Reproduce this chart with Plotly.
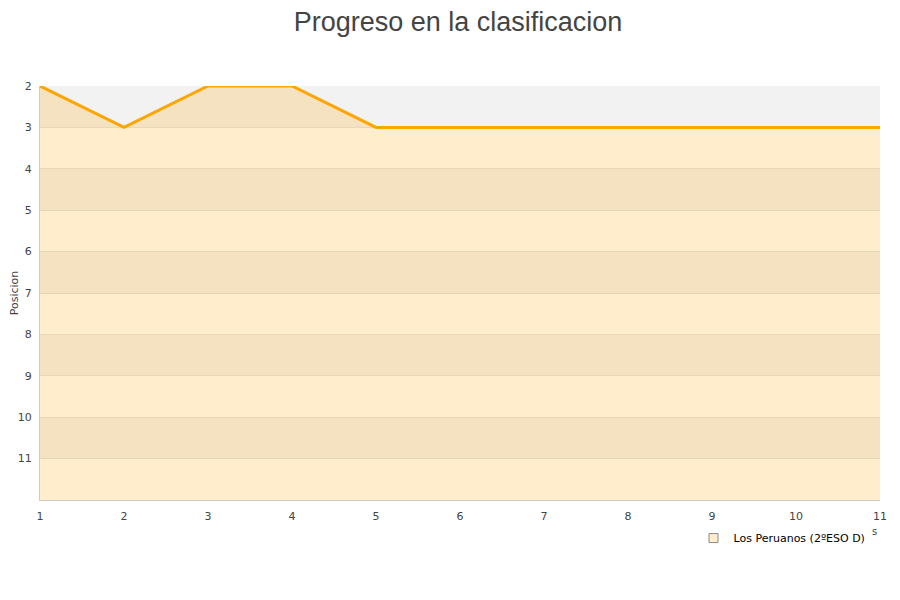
import plotly.graph_objects as go

jornadas = [1, 2, 3, 4, 5, 6, 7, 8, 9, 10, 11]
posicion = [2, 3, 2, 2, 3, 3, 3, 3, 3, 3, 3]
equipo = "Los Peruanos (2ºESO D)"
pos_ticks = [2, 3, 4, 5, 6, 7, 8, 9, 10, 11]
pos_max = 12

fig = go.Figure()

# baseline so the area fills down to the bottom of the reversed axis
fig.add_trace(go.Scatter(x=jornadas, y=[pos_max] * len(jornadas), mode="lines",
                         line=dict(width=0), showlegend=False, hoverinfo="skip"))
fig.add_trace(go.Scatter(x=jornadas, y=posicion, mode="lines", fill="tonexty",
                         fillcolor="rgba(255,165,0,0.2)",
                         line=dict(color="#ffa500", width=3),
                         showlegend=False))
# legend entry with a square symbol
fig.add_trace(go.Scatter(x=[None], y=[None], mode="markers", name=equipo,
                         marker=dict(symbol="square", size=9, color="#ffedcc",
                                     line=dict(color="#888888", width=1))))

# alternating bands
for p in pos_ticks[::2]:
    fig.add_shape(type="rect", xref="paper", x0=0, x1=1, yref="y", y0=p, y1=p + 1,
                  fillcolor="#f2f2f2", line=dict(width=0), layer="below")

fig.update_layout(
    width=900, height=600,
    paper_bgcolor="white", plot_bgcolor="white",
    margin=dict(l=32, r=28, t=78, b=108),
    title=dict(text="Progreso en la clasificacion", x=0.5, xanchor="center",
               y=0.994, yanchor="top", pad=dict(t=0),
               font=dict(family="Liberation Sans", size=27, color="#444444")),
    font=dict(family="DejaVu Sans", size=11, color="#444444"),
    showlegend=True,
    legend=dict(x=0.778, xanchor="left", y=-0.092, yanchor="middle",
                font=dict(family="DejaVu Sans", size=11, color="#000000"),
                bgcolor="rgba(0,0,0,0)"),
    annotations=[dict(text="s", xref="paper", yref="paper", x=0.994, y=-0.075,
                      xanchor="center", yanchor="middle", showarrow=False,
                      font=dict(size=10, color="#444444"))],
)
fig.update_xaxes(range=[1, 11], tickvals=jornadas, showgrid=False,
                 showline=True, linecolor="#cccccc", linewidth=1,
                 ticks="outside", ticklen=6, tickcolor="rgba(0,0,0,0)",
                 zeroline=False, tickfont=dict(size=11))
fig.update_yaxes(range=[pos_max, 2], tickvals=pos_ticks, showgrid=True,
                 gridcolor="#e3e3e3", showline=True, linecolor="#cccccc",
                 linewidth=1, ticks="outside", ticklen=5,
                 tickcolor="rgba(0,0,0,0)", zeroline=False,
                 title=dict(text="Posicion", standoff=6, font=dict(size=11)),
                 automargin=False, tickfont=dict(size=11))

fig.write_html("out.html")
